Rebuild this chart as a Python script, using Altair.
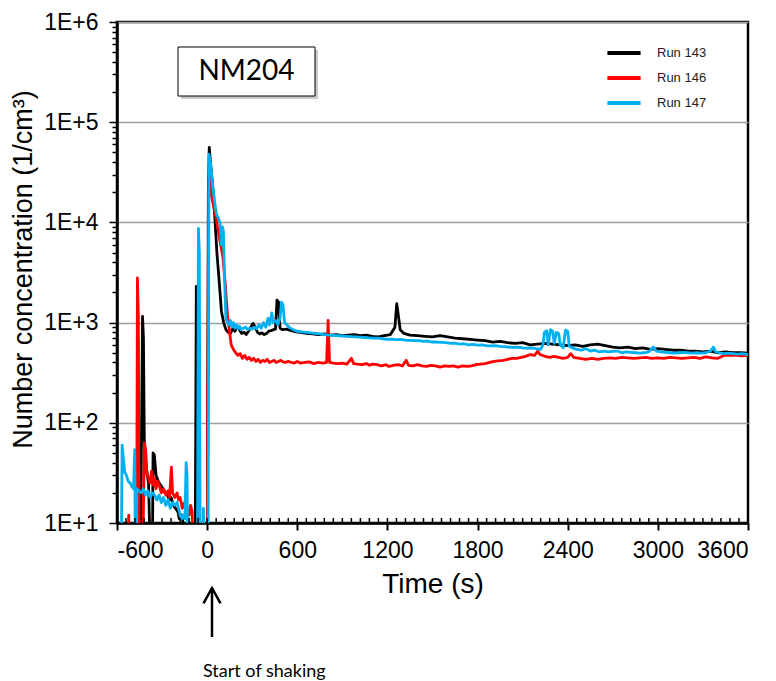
import altair as alt
import pandas as pd

runs = ["Run 143", "Run 146", "Run 147"]
colors = ["#000000", "#ff0000", "#00b0f0"]

# Run 143 (black)
t143 = [-600, -445, -430, -424, -418, -405, -390, -375, -365, -360, -352, -340, -325, -310, -295, -280, -265, -250, -240, -225, -210, -195, -185, -170, -160, -150, -140, -80, -72, -66, -62, 0, 8, 14, 22, 35, 50, 65, 80, 95, 110, 125, 140, 155, 170, 185, 200, 215, 230, 245, 260, 275, 290, 305, 320, 335, 350, 365, 380, 395, 410, 425, 440, 455, 465, 475, 485, 500, 530, 560, 590, 620, 660, 700, 740, 780, 820, 860, 900, 940, 980, 1020, 1060, 1100, 1140, 1180, 1220, 1250, 1262, 1272, 1285, 1310, 1350, 1400, 1450, 1500, 1550, 1600, 1650, 1700, 1750, 1800, 1850, 1900, 1950, 2000, 2050, 2100, 2150, 2200, 2250, 2300, 2350, 2400, 2450, 2500, 2550, 2600, 2650, 2700, 2750, 2800, 2850, 2900, 2950, 3000, 3050, 3100, 3150, 3200, 3250, 3300, 3350, 3400, 3450, 3500, 3550, 3600]
v143 = [3, 3, 1150, 700, 60, 35, 25, 3, 3, 50, 48, 30, 26, 24, 22, 20, 19, 17, 18, 15, 14, 13, 11, 12, 10, 8, 3, 3, 2300, 2300, 3, 3, 20000, 56000, 40000, 25000, 12000, 5000, 2600, 1300, 1000, 850, 800, 780, 870, 820, 900, 850, 780, 800, 760, 820, 900, 980, 900, 800, 770, 790, 760, 780, 820, 830, 850, 860, 1680, 1600, 880, 850, 860, 830, 810, 800, 780, 770, 760, 770, 750, 760, 740, 750, 760, 740, 750, 730, 720, 740, 760, 900, 1550, 1200, 850, 780, 750, 740, 730, 720, 740, 720, 700, 690, 680, 670, 660, 640, 650, 630, 620, 630, 600, 610, 620, 610, 600, 590, 600, 580, 600, 610, 590, 570, 560, 570, 550, 560, 540, 550, 540, 530, 530, 520, 520, 510, 520, 500, 510, 500, 500, 495]

# Run 146 (red)
t146 = [-600, -530, -522, -516, -470, -464, -458, -452, -430, -418, -410, -400, -390, -380, -370, -360, -350, -340, -330, -320, -305, -290, -275, -260, -250, -238, -230, -215, -200, -190, -180, -165, -150, -140, -120, -110, -100, -92, -70, -62, -55, -50, 0, 10, 18, 30, 45, 60, 75, 90, 105, 120, 135, 150, 160, 175, 190, 205, 220, 235, 250, 265, 280, 295, 310, 325, 340, 355, 370, 385, 400, 415, 430, 445, 460, 475, 490, 505, 520, 540, 560, 580, 600, 620, 650, 680, 710, 740, 770, 795, 805, 815, 840, 870, 900, 930, 960, 975, 1000, 1030, 1060, 1080, 1100, 1130, 1160, 1190, 1210, 1240, 1270, 1300, 1325, 1340, 1370, 1400, 1430, 1460, 1490, 1520, 1550, 1580, 1610, 1640, 1670, 1700, 1730, 1760, 1790, 1820, 1850, 1880, 1910, 1940, 1970, 2000, 2030, 2060, 2090, 2120, 2150, 2180, 2200, 2215, 2250, 2280, 2310, 2340, 2370, 2400, 2420, 2440, 2480, 2520, 2560, 2600, 2640, 2680, 2720, 2760, 2800, 2840, 2880, 2920, 2960, 3000, 3040, 3080, 3120, 3160, 3200, 3240, 3280, 3320, 3360, 3400, 3440, 3480, 3520, 3560, 3600]
v146 = [3, 3, 12, 3, 3, 2790, 1200, 3, 3, 63, 55, 30, 28, 25, 33, 24, 28, 22, 26, 24, 20, 22, 19, 21, 18, 36, 20, 18, 20, 17, 18, 14, 16, 13, 12, 15, 13, 3, 3, 13, 12, 3, 3, 20000, 40000, 18000, 14000, 11000, 8000, 6000, 4500, 2500, 1200, 800, 600, 540, 500, 470, 490, 440, 470, 430, 450, 420, 440, 410, 430, 400, 420, 410, 430, 400, 410, 420, 400, 410, 420, 405, 400, 410, 400, 395, 410, 395, 400, 405, 390, 400, 395, 400, 1050, 400, 395, 390, 395, 385, 440, 390, 385, 380, 390, 375, 385, 380, 370, 380, 365, 375, 380, 370, 420, 375, 370, 380, 370, 365, 375, 370, 360, 370, 365, 370, 360, 370, 365, 370, 380, 385, 390, 400, 410, 415, 420, 430, 440, 440, 450, 460, 480, 470, 520, 480, 460, 450, 460, 450, 440, 450, 490, 450, 440, 430, 440, 430, 440, 445, 440, 450, 445, 440, 445, 450, 440, 445, 440, 450, 445, 440, 445, 450, 440, 455, 445, 440, 470, 475, 470, 465, 470]

# Run 147 (blue)
t147 = [-600, -572, -566, -558, -548, -538, -525, -512, -500, -490, -482, -477, -472, -468, -455, -440, -425, -410, -395, -380, -365, -350, -335, -320, -305, -290, -275, -260, -245, -230, -215, -200, -190, -180, -170, -160, -148, -140, -134, -128, -65, -58, -52, -46, -30, -25, -18, 0, 6, 12, 22, 35, 50, 62, 75, 85, 95, 102, 108, 115, 125, 135, 145, 155, 165, 175, 185, 195, 205, 215, 225, 240, 255, 270, 285, 300, 315, 330, 345, 360, 375, 390, 405, 415, 430, 440, 455, 470, 485, 495, 505, 515, 530, 545, 560, 580, 600, 630, 660, 690, 720, 750, 780, 810, 840, 870, 900, 930, 960, 990, 1020, 1050, 1080, 1110, 1140, 1170, 1200, 1230, 1260, 1290, 1320, 1350, 1380, 1410, 1440, 1470, 1500, 1530, 1560, 1590, 1620, 1650, 1680, 1710, 1740, 1770, 1800, 1830, 1860, 1890, 1920, 1950, 1980, 2010, 2040, 2070, 2100, 2130, 2160, 2190, 2220, 2235, 2245, 2260, 2270, 2285, 2300, 2310, 2325, 2340, 2350, 2370, 2385, 2400, 2410, 2430, 2460, 2490, 2520, 2550, 2580, 2610, 2640, 2670, 2700, 2730, 2760, 2790, 2820, 2850, 2880, 2910, 2940, 2970, 2990, 3020, 3050, 3080, 3110, 3140, 3170, 3200, 3230, 3260, 3290, 3320, 3350, 3370, 3385, 3410, 3440, 3470, 3500, 3530, 3560, 3600]
v147 = [3, 3, 60, 45, 32, 30, 26, 25, 23, 22, 54, 3, 3, 22, 21, 20, 22, 19, 21, 18, 20, 19, 17, 19, 16, 18, 15, 17, 14, 16, 15, 16, 14, 12, 11, 12, 11, 40, 30, 3, 3, 8700, 5000, 3, 3, 14, 3, 3, 3, 48000, 40000, 25000, 16000, 12000, 11000, 10000, 6000, 9000, 8300, 3000, 1100, 1000, 950, 1050, 900, 1000, 880, 950, 870, 920, 850, 880, 900, 850, 880, 860, 900, 870, 950, 880, 1000, 900, 1100, 950, 1250, 1000, 1050, 950, 1100, 1600, 1500, 1000, 950, 900, 870, 840, 820, 810, 800, 790, 780, 770, 760, 750, 745, 740, 735, 730, 725, 720, 715, 710, 705, 700, 700, 690, 680, 685, 675, 680, 670, 665, 660, 660, 650, 655, 640, 640, 635, 630, 620, 625, 610, 615, 600, 605, 595, 600, 590, 585, 590, 580, 575, 570, 565, 570, 560, 555, 560, 550, 540, 600, 800, 830, 600, 850, 820, 620, 800, 780, 600, 560, 840, 820, 580, 560, 540, 530, 550, 520, 530, 510, 520, 510, 515, 520, 500, 510, 505, 500, 495, 500, 510, 570, 520, 510, 505, 500, 495, 500, 505, 500, 495, 500, 495, 500, 520, 570, 510, 500, 490, 495, 490, 485, 490, 480]

x_major = list(range(-600, 3601, 600))
x_minor = list(range(-600, 3601, 60))
y_ticks = [m * 10 ** e for e in range(1, 6) for m in range(1, 10)] + [10 ** 6]

W, H = 631, 501

rows = []
for name, ts, vs in [(runs[0], t143, v143), (runs[1], t146, v146), (runs[2], t147, v147)]:
    for i, (t, v) in enumerate(zip(ts, vs)):
        rows.append({"run": name, "time": t, "conc": v, "i": i})
df = pd.DataFrame(rows)

xscale = alt.Scale(domain=[-600, 3600], nice=False, zero=False)
yscale = alt.Scale(type="log", domain=[10, 10 ** 6], nice=False)

is_major = "abs(log(datum.value)/LN10 - round(log(datum.value)/LN10)) < 0.001"

xaxis = alt.Axis(
    values=x_major, title="Time (s)", labelExpr="'' + datum.value",
    labelFont="Liberation Sans", labelFontSize=23, labelColor="black", labelPadding=9,
    titleFont="Liberation Sans", titleFontSize=28, titleFontWeight="normal", titleColor="black",
    titleY=69, titleBaseline="alphabetic",
    tickSize=7, tickWidth=2, tickColor="black", domainColor="black", domainWidth=2.5,
    grid=False,
)
yaxis = alt.Axis(
    values=y_ticks, title="Number concentration  (1/cm³)",
    labelExpr=f"{is_major} ? '1E+' + round(log(datum.value)/LN10) : ''",
    labelFont="Liberation Sans", labelFontSize=23, labelColor="black", labelPadding=11,
    labelOverlap=False,
    titleFont="Liberation Sans", titleFontSize=27, titleFontWeight="normal", titleColor="black",
    titleX=-86, titleY=247, titleBaseline="alphabetic",
    tickSize={"condition": {"test": is_major, "value": 8}, "value": 5},
    tickWidth=1.5, tickColor="black", domainColor="black", domainWidth=2.5,
    grid=True, gridColor="#a0a0a0", gridWidth=1.5,
    gridOpacity={"condition": {"test": is_major, "value": 1}, "value": 0},
)

lines = alt.Chart(df).mark_line(strokeWidth=2.8, clip=True, strokeJoin="round").encode(
    x=alt.X("time:Q", scale=xscale, axis=xaxis),
    y=alt.Y("conc:Q", scale=yscale, axis=yaxis),
    color=alt.Color("run:N", scale=alt.Scale(domain=runs, range=colors),
                    legend=alt.Legend(title=None, orient="none", legendX=488, legendY=21,
                                      symbolType="stroke", symbolSize=1100, symbolStrokeWidth=4,
                                      labelFont="Liberation Sans", labelFontSize=13,
                                      labelColor="#222222", labelOffset=14, rowPadding=5,
                                      clipHeight=20, padding=0)),
    order="i:Q",
)

minor = alt.Chart(pd.DataFrame({"time": x_minor})).mark_rule(color="black", strokeWidth=1.5).encode(
    x=alt.X("time:Q", scale=xscale, axis=xaxis),
    y=alt.value(H),
    y2=alt.value(H - 5),
)

one = pd.DataFrame({"label": ["NM204"]})
shadow = alt.Chart(one).mark_rect(color="#888888", opacity=0.45).encode(
    x=alt.value(64), x2=alt.value(201), y=alt.value(28), y2=alt.value(77))
box = alt.Chart(one).mark_rect(fill="white", stroke="black", strokeWidth=1).encode(
    x=alt.value(61), x2=alt.value(198), y=alt.value(25), y2=alt.value(74))
boxtext = alt.Chart(one).mark_text(font="Lato", fontSize=28, color="black", baseline="middle",
                                   align="center").encode(
    x=alt.value(129.5), y=alt.value(50), text="label:N")

ann = pd.DataFrame({"label": ["Start of shaking"]})
arrow_line = alt.Chart(ann).mark_rule(color="black", strokeWidth=2.5).encode(
    x=alt.value(95), y=alt.value(566), y2=alt.value(615))
arrow_head = alt.Chart(ann).mark_point(shape="M-0.5,0.9L0,0L0.5,0.9", filled=False, color="black",
                                       strokeWidth=2.5, size=1156, opacity=1).encode(
    x=alt.value(95), y=alt.value(566))
ann_text = alt.Chart(ann).mark_text(font="Lato", fontSize=18, color="black", align="left",
                                    baseline="alphabetic").encode(
    x=alt.value(86), y=alt.value(655), text="label:N")

chart = alt.layer(lines, minor, shadow, box, boxtext, arrow_line, arrow_head, ann_text).properties(
    width=W, height=H,
    autosize=alt.AutoSizeParams(type="none"),
    padding={"left": 109, "top": 14, "right": 20, "bottom": 158},
).configure_view(stroke="black", strokeWidth=2.5)

chart.save("out.html", embed_options={"renderer": "svg", "actions": False})
